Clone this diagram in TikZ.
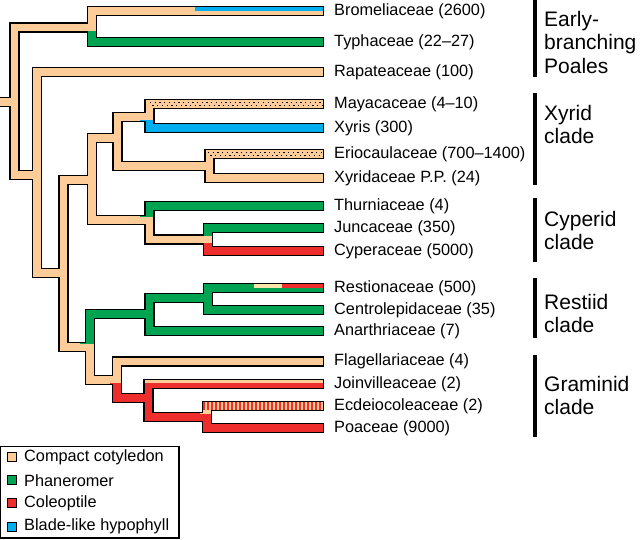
\documentclass[tikz,border=0pt]{standalone}
\usepackage{fontspec}
\setmainfont{Liberation Sans}
\usepackage{tikz}
\usetikzlibrary{positioning, calc}
\definecolor{cotyledon}{RGB}{254,204,153}
\definecolor{phaneromer}{RGB}{0,163,80}
\definecolor{coleoptile}{RGB}{238,45,45}
\definecolor{hypophyll}{RGB}{0,174,239}
\definecolor{palestraw}{RGB}{250,230,170}
\tikzset{
  branchline/.style={line width=10.5pt, draw=black, line cap=rect, line join=miter},
  branchfill/.style={line width=7.5pt, draw=cotyledon, line cap=rect, line join=miter},
  stipple/.style={line width=1.3pt, draw=black, dash pattern=on 1.3pt off 3.4pt},
  hatch/.style={line width=7.5pt, draw=coleoptile, dash pattern=on 1.4pt off 2.6pt},
  taxon/.style={anchor=west, inner sep=0pt, font=\fontsize{16.3}{18}\selectfont},
  cladename/.style={anchor=north west, inner sep=0pt, align=left,
                    font=\fontsize{21}{23.5}\selectfont},
  cladebar/.style={line width=4pt, draw=black},
  keybox/.style={rectangle, draw=black, line width=1pt, minimum size=9pt, inner sep=0pt},
  keytext/.style={anchor=west, inner sep=0pt, font=\fontsize{16.3}{18}\selectfont},
}
% every internal node (a) -| (parent) |- (b)
\newcommand{\cladetree}{%
  (base) -- (root)
  (bt) -| (root) |- (n2)
  (bro) -| (bt) |- (typ)
  (rap) -| (n2) |- (n3)
  (n4) -| (n3) |- (n5)
  (xyr) -| (n4) |- (cyp)
  (mx) -| (xyr) |- (ex)
  (may) -| (mx) |- (xys)
  (eri) -| (ex) |- (xyd)
  (thu) -| (cyp) |- (jc)
  (jun) -| (jc) |- (cype)
  (res) -| (n5) |- (gra)
  (rc) -| (res) |- (ana)
  (rst) -| (rc) |- (cen)
  (fla) -| (gra) |- (jep)
  (joi) -| (jep) |- (ep)
  (ecd) -| (ep) |- (poa)}
\begin{document}
\begin{tikzpicture}[x=1pt, y=-1pt]
  \clip (0,0) rectangle (640,539);

  % internal nodes
  \coordinate (base) at (-10,102);
  \coordinate (root) at (14.5,102);
  \coordinate (bt)   at (92,27.5);
  \coordinate (n2)   at (37,175);
  \coordinate (n3)   at (63.5,273);
  \coordinate (n4)   at (92,180);
  \coordinate (xyr)  at (117.5,138);
  \coordinate (mx)   at (149.5,117);
  \coordinate (ex)   at (209.5,166);
  \coordinate (cyp)  at (149.5,220);
  \coordinate (jc)   at (208,239.5);
  \coordinate (n5)   at (90,347);
  \coordinate (res)  at (149.5,314);
  \coordinate (rc)   at (208,298);
  \coordinate (gra)  at (117,380);
  \coordinate (jep)  at (148.5,398);
  \coordinate (ep)   at (207,417);

  % tips
  \foreach \tip/\ty in {bro/11, typ/42, rap/72, may/104, xys/128, eri/154,
      xyd/178, thu/206, jun/228, cype/251, rst/288, cen/310, ana/331,
      fla/361.5, joi/384, ecd/406, poa/428}
    \coordinate (\tip) at (318.75,\ty);

  \draw[branchline] \cladetree;
  \draw[branchfill] \cladetree;

  % character states
  \foreach \tint/\xa/\ya/\xb/\yb in {
      phaneromer/85/31.25/330/50,
      hypophyll/140/120.75/330/136,
      phaneromer/140/200/330/216.25,
      phaneromer/200/222/330/235.75,
      coleoptile/200/243.25/330/260,
      phaneromer/80/280/330/343.25,
      coleoptile/110/383.75/330/440,
      cotyledon/200/398/330/413.25}
  {
    \begin{scope}
      \clip (\xa,\ya) rectangle (\xb,\yb);
      \draw[branchfill, draw=\tint] \cladetree;
    \end{scope}
  }

  \fill[hypophyll] (195,7.25) rectangle (322.5,10.6);
  \fill[palestraw] (254,284.25) rectangle (282,287.6);
  \fill[coleoptile] (282,284.25) rectangle (322.5,287.6);
  \draw[stipple] (150,102.2) -- (322,102.2);
  \draw[stipple, dash phase=2.3pt] (150,105.8) -- (322,105.8);
  \draw[stipple] (208,152.2) -- (322,152.2);
  \draw[stipple, dash phase=2.3pt] (208,155.8) -- (322,155.8);
  \draw[hatch] (203.25,406) -- (322.25,406);

  % taxa
  \foreach \tip/\name in {bro/Bromeliaceae (2600), typ/Typhaceae (22–27),
      rap/Rapateaceae (100), may/Mayacaceae (4–10), xys/Xyris (300),
      eri/Eriocaulaceae (700–1400), xyd/Xyridaceae P.P. (24),
      thu/Thurniaceae (4), jun/Juncaceae (350), cype/Cyperaceae (5000),
      rst/Restionaceae (500), cen/Centrolepidaceae (35),
      ana/Anarthriaceae (7), fla/Flagellariaceae (4),
      joi/Joinvilleaceae (2), ecd/Ecdeiocoleaceae (2), poa/Poaceae (9000)}
    \node[taxon, right=15.25pt of \tip] (\tip-t) {\name};

  % clades
  \draw[cladebar] (534.5,0) -- (534.5,77);
  \draw[cladebar] (534.5,93) -- (534.5,185);
  \draw[cladebar] (534.5,198) -- (534.5,262);
  \draw[cladebar] (534.5,278) -- (534.5,338);
  \draw[cladebar] (534.5,355) -- (534.5,437);
  \node[cladename] (early) at (544,11) {Early-\\branching\\Poales};
  \node[cladename] (xyrid) at (544,105) {Xyrid\\clade};
  \node[cladename] (cyperid) at (544,211) {Cyperid\\clade};
  \node[cladename] (restiid) at (544,294) {Restiid\\clade};
  \node[cladename] (graminid) at (544,376) {Graminid\\clade};

  % key
  \draw[line width=1.3pt] (0.8,446.5) rectangle (179,538);
  \node[keybox, fill=cotyledon] (k1) at (12,457) {};
  \node[keybox, fill=phaneromer, below=13.2pt of k1] (k2) {};
  \node[keybox, fill=coleoptile, below=13.2pt of k2] (k3) {};
  \node[keybox, fill=hypophyll, below=13.2pt of k3] (k4) {};
  \node[keytext, right=7pt of k1] (k1-t) {Compact cotyledon};
  \node[keytext, right=7pt of k2] (k2-t) {Phaneromer};
  \node[keytext, right=7pt of k3] (k3-t) {Coleoptile};
  \node[keytext, right=7pt of k4] (k4-t) {Blade-like hypophyll};
\end{tikzpicture}
\end{document}
